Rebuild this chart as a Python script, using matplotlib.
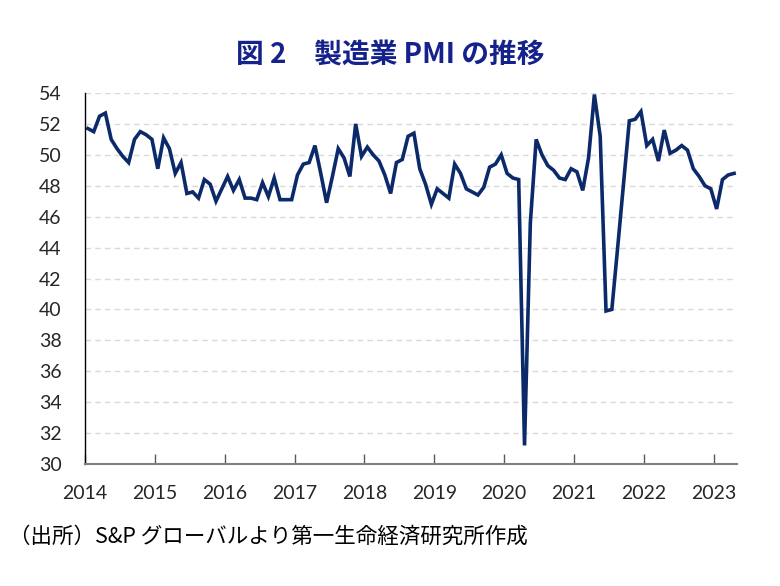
import numpy as np
import matplotlib.pyplot as plt

plt.rcParams['font.family'] = ['Lato', 'Noto Sans CJK JP', 'DejaVu Sans']

# 製造業PMI（月次、2014年1月〜2023年4月）
years = ['2014', '2015', '2016', '2017', '2018', '2019', '2020', '2021', '2022', '2023']
pmi_2014 = [51.7, 51.5, 52.5, 52.7, 51.0, 50.4, 49.9, 49.5, 51.0, 51.5, 51.3, 51.0]
pmi_2015 = [49.1, 51.1, 50.4, 48.8, 49.5, 47.5, 47.6, 47.2, 48.4, 48.1, 47.0, 47.8]
pmi_2016 = [48.6, 47.7, 48.4, 47.2, 47.2, 47.1, 48.2, 47.3, 48.5, 47.1, 47.1, 47.1]
pmi_2017 = [48.7, 49.4, 49.5, 50.6, 48.8, 46.9, 48.6, 50.4, 49.8, 48.6, 52.0, 49.9]
pmi_2018 = [50.5, 50.0, 49.6, 48.7, 47.5, 49.5, 49.7, 51.2, 51.4, 49.1, 48.1, 46.8]
pmi_2019 = [47.8, 47.5, 47.2, 49.4, 48.8, 47.8, 47.6, 47.4, 47.9, 49.2, 49.4, 50.0]
pmi_2020 = [48.8, 48.5, 48.4, 31.2, 45.6, 51.0, 50.0, 49.3, 49.0, 48.5, 48.4, 49.1]
pmi_2021 = [48.9, 47.7, 49.8, 53.9, 51.2, 39.9, 40.0, 44.0, 48.1, 52.2, 52.3, 52.8]
pmi_2022 = [50.6, 51.0, 49.6, 51.6, 50.1, 50.3, 50.6, 50.3, 49.1, 48.6, 48.0, 47.8]
pmi_2023 = [46.5, 48.4, 48.7, 48.8]

pmi = (pmi_2014 + pmi_2015 + pmi_2016 + pmi_2017 + pmi_2018 +
       pmi_2019 + pmi_2020 + pmi_2021 + pmi_2022 + pmi_2023)
x = np.arange(len(pmi))

fig = plt.figure(figsize=(7.8, 5.86), dpi=100)
ax = fig.add_axes([85 / 780, 1 - 464 / 586, (737 - 85) / 780, (464 - 93) / 586])

ax.plot(x, pmi, color='#0c2a6a', lw=2.6, solid_joinstyle='miter')

ax.set_xlim(-0.5, len(pmi) - 0.5)
ax.set_ylim(30, 54)
ax.set_yticks(range(30, 55, 2))
ax.set_xticks([-0.5 + 12 * k for k in range(len(years))], years)

ax.yaxis.grid(True, linestyle=(0, (4, 3)), color='#d9d9d9', lw=1)
ax.set_axisbelow(True)

ax.spines['top'].set_visible(False)
ax.spines['right'].set_visible(False)
ax.spines['left'].set_color('black')
ax.spines['left'].set_linewidth(1)
ax.spines['bottom'].set_color('#7f7f7f')
ax.spines['bottom'].set_linewidth(1.5)

ax.tick_params(axis='x', direction='in', length=7, width=1, color='#595959',
               pad=15, labelsize=14, labelcolor='#262626')
ax.tick_params(axis='y', length=0, pad=17, labelsize=14, labelcolor='#262626')

fig.text(0.5, 1 - 56 / 586, '図 2\u3000製造業 PMI の推移', ha='center', va='center',
         fontsize=20, fontweight='bold', color='#16228c',
         family=['Noto Sans CJK JP', 'DejaVu Sans'])
fig.text(9 / 780, 1 - 537 / 586, '（出所）S&P グローバルより第一生命経済研究所作成',
         ha='left', va='center', fontsize=15.5, color='black',
         family=['Noto Sans CJK JP', 'DejaVu Sans'])

fig.savefig('out.png', dpi=100)
